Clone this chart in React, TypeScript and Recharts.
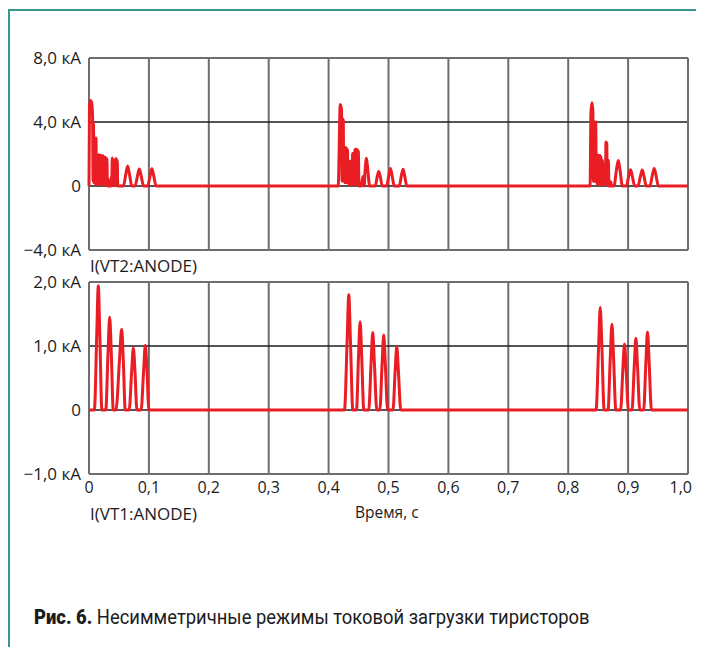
import React from "react";
import { LineChart, Line, XAxis, YAxis, ReferenceLine } from "recharts";

// ---- data ----
const timeTicks = [0, 0.1, 0.2, 0.3, 0.4, 0.5, 0.6, 0.7, 0.8, 0.9, 1.0];
const timeLabels = ["0", "0,1", "0,2", "0,3", "0,4", "0,5", "0,6", "0,7", "0,8", "0,9", "1,0"];
const vt2Ticks = [-4, 0, 4, 8];
const vt2Labels = ["\u22124,0 кА", "0", "4,0 кА", "8,0 кА"];
const vt1Ticks = [-1, 0, 1, 2];
const vt1Labels = ["\u22121,0 кА", "0", "1,0 кА", "2,0 кА"];

// I(VT2:ANODE), kA — [time s, current kA]
const vt2Burst1: number[][] = [
  [0.0, 0], [0.0008, 5.0], [0.0025, 5.35], [0.0045, 5.2], [0.006, 4.3], [0.0068, 0.3],
  [0.0075, 3.9], [0.0083, 0.2], [0.009, 2.6], [0.0098, 0.2], [0.0105, 1.6], [0.011, 0.1],
  [0.0117, 3.0], [0.0124, 0.2], [0.0131, 1.1], [0.0138, 0.1], [0.0145, 0.9], [0.0152, 0.1],
  [0.016, 1.95], [0.0167, 0.1], [0.0174, 1.95], [0.0181, 0.1], [0.0188, 1.9], [0.0195, 0.1],
  [0.0202, 1.9], [0.0209, 0.1], [0.0216, 1.85], [0.0223, 0.1], [0.023, 1.9], [0.0237, 0.1],
  [0.0244, 1.85], [0.0251, 0.1], [0.0258, 1.8], [0.0265, 0.1], [0.0272, 1.8], [0.0279, 0.1],
  [0.0286, 1.75], [0.0293, 0.1], [0.03, 1.7], [0.0307, 0], [0.0318, 0.45], [0.0326, 0],
  [0.0336, 0.3], [0.0344, 0], [0.0362, 0], [0.0372, 0.6], [0.038, 0], [0.0388, 1.75],
  [0.0395, 0.1], [0.0402, 1.65], [0.0409, 0.1], [0.0416, 1.6], [0.0423, 0.1], [0.043, 0.7],
  [0.0437, 0], [0.0444, 1.7], [0.0451, 0.1], [0.0458, 1.7], [0.0465, 0.1], [0.0472, 1.6],
  [0.048, 0], [0.0575, 0], [0.0615, 0.75], [0.0645, 1.25], [0.0675, 0.75], [0.0715, 0],
  [0.077, 0], [0.081, 0.65], [0.084, 1.06], [0.087, 0.65], [0.091, 0],
  [0.098, 0], [0.102, 0.65], [0.105, 1.08], [0.108, 0.65], [0.112, 0],
];
const vt2Burst2: number[][] = [
  [0.416, 0], [0.4195, 5.1], [0.4215, 4.8], [0.4225, 0.3], [0.4235, 4.2], [0.4245, 4.1],
  [0.4252, 0.3], [0.426, 2.4], [0.4267, 0.2], [0.4274, 2.4], [0.4281, 0.2], [0.4288, 2.4],
  [0.4295, 0.2], [0.4302, 2.35], [0.4309, 0.2], [0.4316, 2.3], [0.4323, 0.2], [0.433, 1.55],
  [0.4337, 0.1], [0.4344, 1.55], [0.4351, 0.1], [0.4358, 1.55], [0.4365, 0.1], [0.4372, 1.5],
  [0.4379, 0.1], [0.4386, 1.55], [0.4393, 0.1], [0.44, 2.05], [0.4407, 0.1], [0.4414, 2.05],
  [0.4421, 0.1], [0.4428, 2.0], [0.4435, 0.1], [0.4442, 2.3], [0.4449, 0.1], [0.4456, 2.3],
  [0.4463, 0.1], [0.447, 2.3], [0.4477, 0.1], [0.4484, 2.25], [0.4491, 0.1], [0.4498, 2.2],
  [0.4505, 0], [0.454, 0], [0.456, 0.35], [0.4575, 0.6], [0.459, 0], [0.4595, 0],
  [0.461, 1.0], [0.4632, 1.73], [0.4655, 1.0], [0.4685, 0],
  [0.478, 0], [0.481, 0.55], [0.4837, 0.9], [0.4865, 0.55], [0.4895, 0],
  [0.497, 0], [0.5005, 0.65], [0.5032, 1.1], [0.506, 0.65], [0.5095, 0],
  [0.518, 0], [0.5215, 0.65], [0.5243, 1.05], [0.527, 0.65], [0.5305, 0],
];
const vt2Burst3: number[][] = [
  [0.8365, 0], [0.838, 4.6], [0.8396, 5.2], [0.8412, 4.7], [0.842, 0.3], [0.8428, 4.0],
  [0.8436, 0.3], [0.8444, 4.0], [0.8452, 0.3], [0.846, 4.0], [0.8468, 0.3], [0.8476, 1.95],
  [0.8483, 0.1], [0.849, 1.95], [0.8497, 0.1], [0.8504, 1.9], [0.8511, 0.1], [0.8518, 1.9],
  [0.8525, 0.1], [0.8532, 1.9], [0.8539, 0.1], [0.8546, 1.85], [0.8553, 0.1], [0.856, 1.3],
  [0.8567, 0.1], [0.8574, 1.6], [0.8581, 0.1], [0.8588, 1.3], [0.8595, 0.1], [0.8602, 1.2],
  [0.8609, 0.1], [0.8616, 1.0], [0.8623, 0.1], [0.863, 2.75], [0.8637, 0.2], [0.8644, 2.7],
  [0.8651, 0.1], [0.8658, 1.6], [0.8665, 0.1], [0.8672, 1.6], [0.8679, 0], [0.869, 0.3],
  [0.87, 0], [0.8712, 0.25], [0.8722, 0],
  [0.8765, 0], [0.8805, 1.0], [0.8836, 1.6], [0.8865, 1.0], [0.8905, 0],
  [0.897, 0], [0.901, 0.62], [0.9041, 1.02], [0.907, 0.62], [0.911, 0],
  [0.9165, 0], [0.9205, 0.6], [0.9236, 1.0], [0.9265, 0.6], [0.9305, 0],
  [0.9365, 0], [0.9405, 0.68], [0.9436, 1.1], [0.9465, 0.68], [0.9505, 0], [1.0, 0],
];

// I(VT1:ANODE), kA — [time s, current kA]
const vt1Burst1: number[][] = [
  [0.0, 0],
  [0.009, 0], [0.013, 1.2], [0.0155, 1.94], [0.018, 1.2], [0.0215, 0],
  [0.028, 0], [0.0318, 0.9], [0.0345, 1.45], [0.0372, 0.9], [0.0405, 0],
  [0.045, 0], [0.051, 0.8], [0.0545, 1.26], [0.0572, 0.8], [0.0605, 0],
  [0.067, 0], [0.0712, 0.6], [0.074, 0.97], [0.0768, 0.6], [0.08, 0],
  [0.087, 0], [0.0912, 0.62], [0.094, 1.01], [0.0968, 0.62], [0.1, 0],
];
const vt1Burst2: number[][] = [
  [0.4265, 0], [0.431, 1.1], [0.4337, 1.8], [0.4364, 1.1], [0.4405, 0],
  [0.4465, 0], [0.45, 0.85], [0.4526, 1.38], [0.4552, 0.85], [0.4588, 0],
  [0.467, 0], [0.471, 0.75], [0.4737, 1.21], [0.4764, 0.75], [0.4805, 0],
  [0.4855, 0], [0.4893, 0.72], [0.492, 1.17], [0.4947, 0.72], [0.4985, 0],
  [0.5075, 0], [0.5111, 0.61], [0.5138, 0.99], [0.5165, 0.61], [0.5205, 0],
];
const vt1Burst3: number[][] = [
  [0.8465, 0], [0.8508, 1.0], [0.8535, 1.6], [0.8562, 1.0], [0.86, 0],
  [0.8665, 0], [0.8703, 0.83], [0.873, 1.34], [0.8757, 0.83], [0.8795, 0],
  [0.8875, 0], [0.8913, 0.64], [0.894, 1.03], [0.8967, 0.64], [0.9005, 0],
  [0.9065, 0], [0.9103, 0.69], [0.913, 1.12], [0.9157, 0.69], [0.9195, 0],
  [0.926, 0], [0.9297, 0.75], [0.9324, 1.22], [0.9351, 0.75], [0.939, 0],
  [1.0, 0],
];

const toRows = (bursts: number[][][]) =>
  bursts.flat().map(([t, v]) => ({ t, v }));
const vt2Data = toRows([vt2Burst1, vt2Burst2, vt2Burst3]);
const vt1Data = toRows([vt1Burst1, vt1Burst2, vt1Burst3]);

const RED = "#ea1c24";
const GRID = "#6e6e6e";
const HLINE = "#1e1e1e";
const TEXT = "#1c1c1c";
const FONT = "'Open Sans', sans-serif";

function TimeTick(props: any) {
  const { x, y, payload } = props;
  const idx = timeTicks.findIndex((t) => Math.abs(t - payload.value) < 1e-6);
  const last = idx === timeTicks.length - 1;
  return (
    <text
      x={last ? x + 4 : x}
      y={y}
      dy="0.71em"
      textAnchor={last ? "end" : "middle"}
      fill={TEXT}
      fontSize={16}
      fontFamily={FONT}
    >
      {timeLabels[idx]}
    </text>
  );
}

function Panel(props: {
  data: { t: number; v: number }[];
  ticks: number[];
  labels: string[];
  top: number;
  height: number;
  bottom: number;
  showX: boolean;
}) {
  const { data, ticks, labels, top, height, bottom, showX } = props;
  const lo = ticks[0];
  const hi = ticks[ticks.length - 1];
  return (
    <LineChart
      width={704}
      height={height}
      data={data}
      margin={{ top, right: 16, bottom, left: 0 }}
      style={{ overflow: "visible" }}
    >
      <XAxis
        dataKey="t"
        type="number"
        domain={[0, 1]}
        ticks={timeTicks}
        hide={!showX}
        height={30}
        axisLine={false}
        tickLine={false}
        interval={0}
        tick={<TimeTick />}
      />
      <YAxis
        type="number"
        domain={[lo, hi]}
        ticks={ticks}
        width={89}
        axisLine={false}
        tickLine={false}
        interval={0}
        tick={{ fill: TEXT, fontSize: 17, fontFamily: FONT }}
        tickFormatter={(v: number) => labels[ticks.indexOf(v)]}
      />
      {timeTicks.slice(1, -1).map((x) => (
        <ReferenceLine key={"vx" + x} x={x} stroke={GRID} strokeWidth={2} />
      ))}
      {ticks.slice(1, -1).map((y) => (
        <ReferenceLine key={"hy" + y} y={y} stroke={HLINE} strokeWidth={1.5} />
      ))}
      <ReferenceLine x={0} stroke={GRID} strokeWidth={2} />
      <ReferenceLine x={1} stroke={GRID} strokeWidth={2} />
      <ReferenceLine y={lo} stroke={GRID} strokeWidth={2} />
      <ReferenceLine y={hi} stroke={GRID} strokeWidth={2} />
      <Line
        dataKey="v"
        type="monotone"
        stroke={RED}
        strokeWidth={3}
        dot={false}
        isAnimationActive={false}
      />
    </LineChart>
  );
}

export default function App() {
  return (
    <div
      style={{
        position: "relative",
        width: 704,
        height: 647,
        margin: "-8px 0 0 -8px",
        background: "#ffffff",
        overflow: "hidden",
        fontFamily: FONT,
        color: TEXT,
      }}
    >
      <div
        style={{
          position: "absolute",
          left: 8,
          top: 9,
          width: 720,
          height: 660,
          borderLeft: "2px solid #3a958f",
          borderTop: "2px solid #3a958f",
        }}
      />
      <div style={{ position: "absolute", left: 0, top: 0 }}>
        <Panel data={vt2Data} ticks={vt2Ticks} labels={vt2Labels} top={58} height={260} bottom={10} showX={false} />
      </div>
      <div style={{ position: "absolute", left: 0, top: 0 }}>
        <Panel data={vt1Data} ticks={vt1Ticks} labels={vt1Labels} top={282} height={510} bottom={6} showX={true} />
      </div>
      <div style={{ position: "absolute", left: 90, top: 255, fontSize: 17, lineHeight: "22px", whiteSpace: "nowrap" }}>I(VT2:ANODE)</div>
      <div style={{ position: "absolute", left: 90, top: 503, fontSize: 17, lineHeight: "22px", whiteSpace: "nowrap" }}>I(VT1:ANODE)</div>
      <div style={{ position: "absolute", left: 355, top: 501, fontSize: 15.5, lineHeight: "22px", whiteSpace: "nowrap" }}>Время, с</div>
      <div
        style={{
          position: "absolute",
          left: 34,
          top: 604,
          fontSize: 20,
          lineHeight: "26px",
          fontFamily: "Roboto, sans-serif",
          whiteSpace: "nowrap",
          transform: "scaleX(0.92)",
          transformOrigin: "0 0",
        }}
      >
        <b style={{ fontWeight: 900 }}>Рис. 6.</b> Несимметричные режимы токовой загрузки тиристоров
      </div>
    </div>
  );
}
